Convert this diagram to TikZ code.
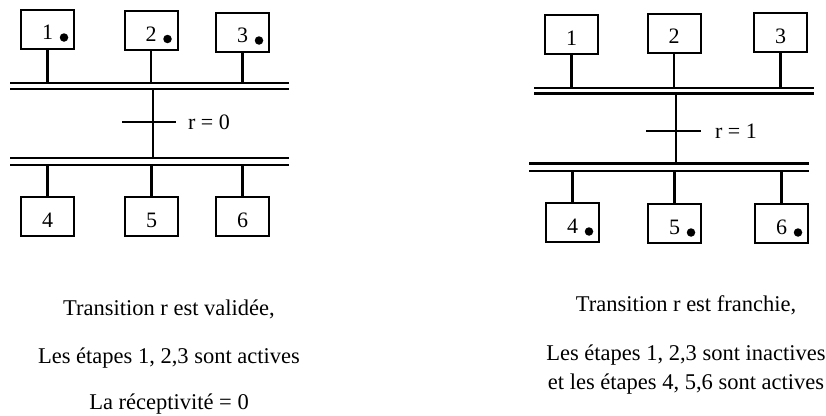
\documentclass[tikz,border=0pt]{standalone}
\usepackage{fontspec}
\setmainfont{Liberation Serif}
\begin{document}
\begin{tikzpicture}[x = 1pt, y = -1pt,
    etape/.style = {draw, line width = 2pt, minimum width = 53pt, minimum height = 39pt,
        inner sep = 0pt, text height = 21pt, text depth = 0pt, font = \fontsize{22}{22}\selectfont},
    jeton/.style = {fill, circle, inner sep = 0pt, minimum size = 8.5pt},
    recep/.style = {anchor = west, inner sep = 0pt, font = \fontsize{22}{22}\selectfont},
    legende/.style = {anchor = base, inner sep = 0pt, font = \fontsize{22.5}{27}\selectfont}]
    \useasboundingbox (0,0) rectangle (826,415);
    \begin{scope}[line width = 2.3pt]
    \node[etape] (v1) at (47.5,29) {1};
    \node[etape] (v2) at (151,30.5) {2};
    \node[etape] (v3) at (242.5,32) {3};
    \node[etape] (v4) at (47.5,216.5) {4};
    \node[etape] (v5) at (151.5,216.5) {5};
    \node[etape] (v6) at (242.5,216.5) {6};
    \foreach \i in {1,2,3}
        \node[jeton] (jv\i) at ([shift = {(16.5,8.5)}]v\i.center) {};
    \coordinate (vh) at (10,83);
    \coordinate (vb) at (10,165);
    \draw
    (vh) -- (289,83)
    (10,89) -- (289,89)
    (10,158) -- (289,158)
    (vb) -- (289,165);
    \draw (v1) -- (v1 |- vh) (v2) -- (v2 |- vh) (v3) -- (v3 |- vh);
    \draw (v4) -- (v4 |- vb) (v5) -- (v5 |- vb) (v6) -- (v6 |- vb);
    \draw (153,89) -- (153,158);
    \draw (122,122) -- (176,122);
    \node[recep] (vr) at (187,122) {r = 0};
    \end{scope}
    \begin{scope}[line width = 2.3pt]
    \node[etape] (f1) at (571.5,34.5) {1};
    \node[etape] (f2) at (674,33) {2};
    \node[etape] (f3) at (780.5,32.5) {3};
    \node[etape] (f4) at (572.5,222.5) {4};
    \node[etape] (f5) at (674.5,223.5) {5};
    \node[etape] (f6) at (781.5,223.5) {6};
    \foreach \i in {4,5,6}
        \node[jeton] (jf\i) at ([shift = {(16.5,9)}]f\i.center) {};
    \coordinate (fh) at (534,88);
    \coordinate (fb) at (529,171);
    \draw
    (fh) -- (814,88)
    (534,93.5) -- (814,93.5)
    (529,163.5) -- (809,163.5)
    (fb) -- (809,171);
    \draw (f1) -- (f1 |- fh) (f2) -- (f2 |- fh) (f3) -- (f3 |- fh);
    \draw (f4) -- (f4 |- fb) (f5) -- (f5 |- fb) (f6) -- (f6 |- fb);
    \draw (676,93.5) -- (676,163.5);
    \draw (646,131) -- (701,131);
    \node[recep] (fr) at (714,131) {r = 1};
    \end{scope}
    \node[legende] (lv1) at (169,315) {Transition r est validée,};
    \node[legende] (lv2) at (169,363) {Les étapes 1, 2,3 sont actives};
    \node[legende] (lv3) at (169,409) {La réceptivité = 0};
    \node[legende] (lf1) at (686,311) {Transition r est franchie,};
    \node[legende] (lf2) at (686,360) {Les étapes 1, 2,3 sont inactives};
    \node[legende] (lf3) at (686,389) {et les étapes 4, 5,6 sont actives};
\end{tikzpicture}
\end{document}
